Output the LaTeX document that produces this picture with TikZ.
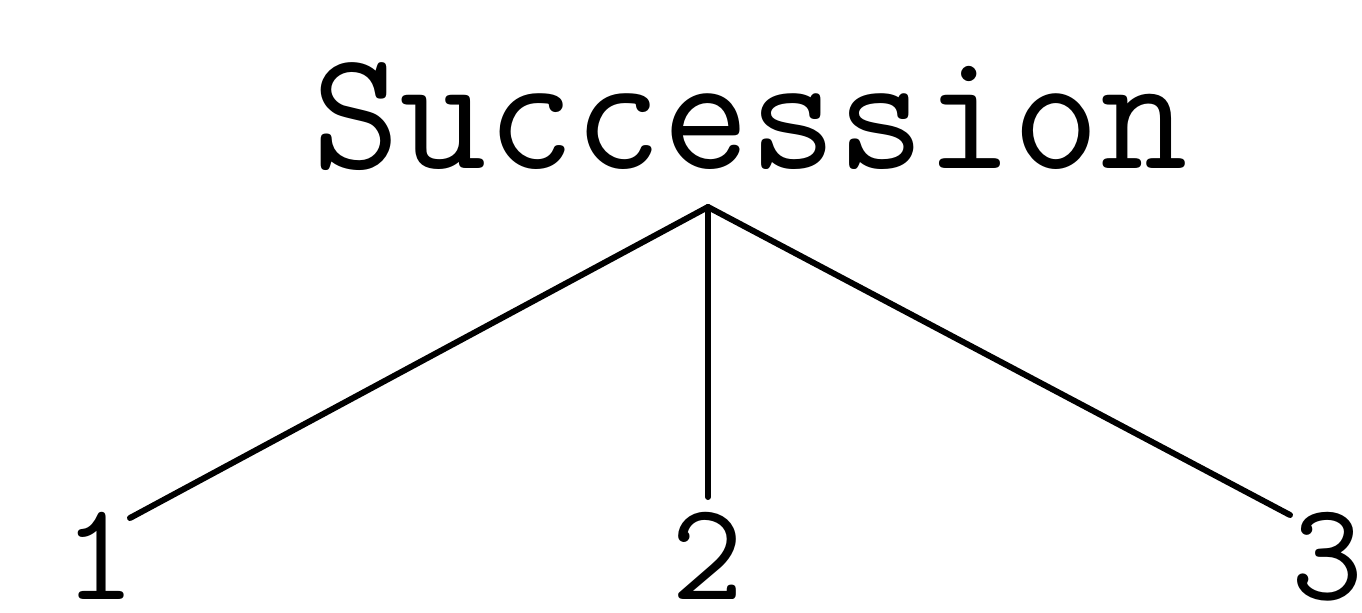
\documentclass[tikz,border=0pt]{standalone}
\begin{document}
\begin{tikzpicture}[x=1pt,y=1pt,
  lbl/.style={inner sep=0pt,font=\ttfamily\fontsize{85}{90}\selectfont},
  leaf/.style={inner sep=0pt,font=\ttfamily\fontsize{70}{74}\selectfont},
  edge/.style={line width=3pt,line cap=round}]
\useasboundingbox (0,0) rectangle (681,306);
\node[lbl,anchor=base] (s) at (375,222) {Succession};
\node[leaf,anchor=base] (n1) at (50,6.5) {1};
\node[leaf,anchor=base] (n2) at (354,6.5) {2};
\node[leaf,anchor=base] (n3) at (664,6.5) {3};
\coordinate (apex) at (354,202.5);
\coordinate (e1) at (65,47);
\coordinate (e2) at (354,57.5);
\coordinate (e3) at (645,48.5);
\draw[edge] (apex) -- (e1);
\draw[edge] (apex) -- (e2);
\draw[edge] (apex) -- (e3);
\end{tikzpicture}
\end{document}
